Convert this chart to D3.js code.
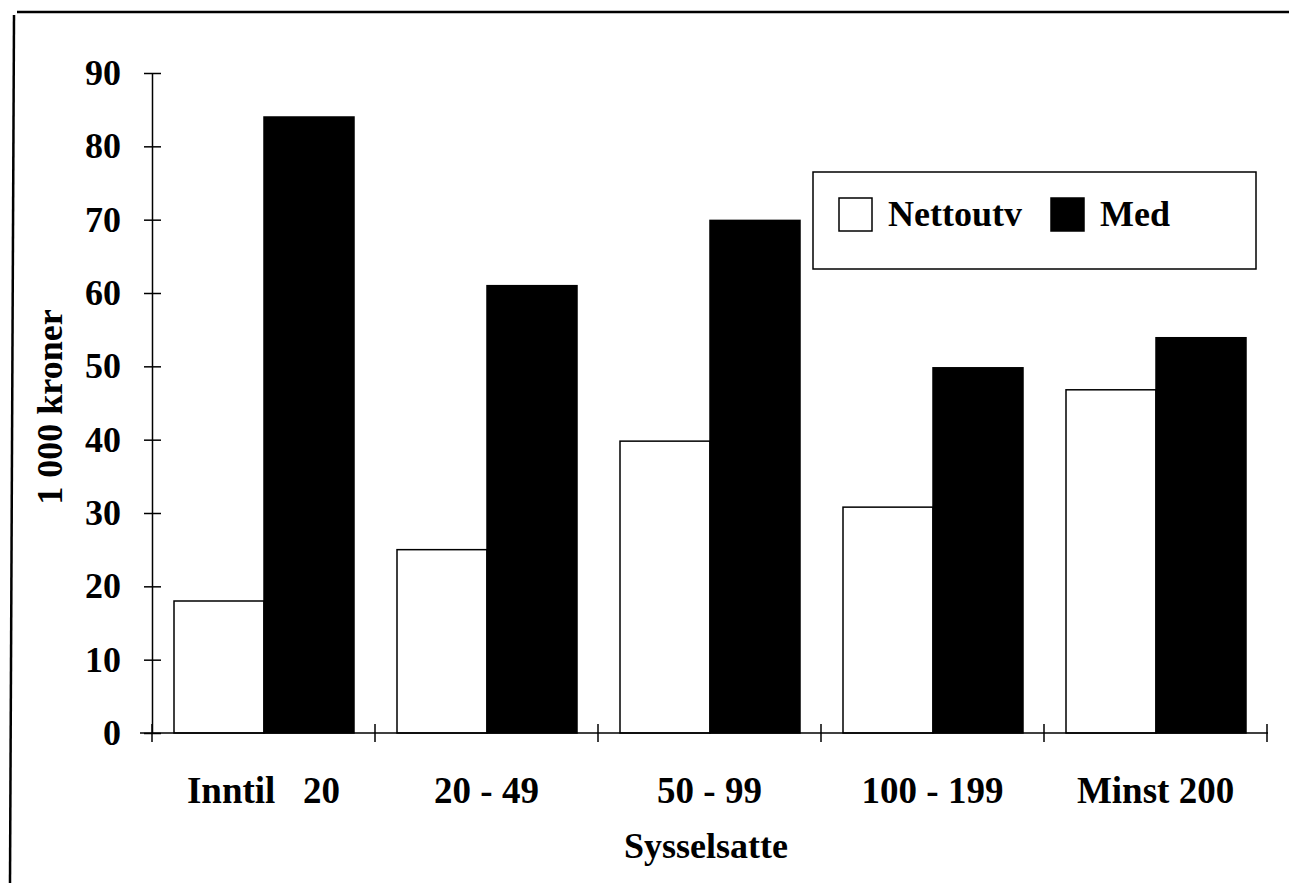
<!DOCTYPE html>
<html>
<head>
<meta charset="utf-8">
<script src="https://cdn.jsdelivr.net/npm/d3@7"></script>
<style>
  body { margin: 0; background: #fff; }
  svg text { font-family: "Liberation Serif", "Times New Roman", serif; font-weight: bold; fill: #000; }
</style>
</head>
<body>
<div id="chart"></div>
<script>
// data
const categories = ["Inntil   20", "20 - 49", "50 - 99", "100 - 199", "Minst 200"];
const seriesNames = ["Nettoutv", "Med"];
const nettoutv = [18, 25, 39.8, 30.8, 46.8];
const med = [84, 61, 69.9, 49.8, 53.9];
const yTicks = [0, 10, 20, 30, 40, 50, 60, 70, 80, 90];

const width = 1289, height = 883;
const fills = { Nettoutv: "#fff", Med: "#000" };

const svg = d3.select("#chart").append("svg")
  .attr("width", width)
  .attr("height", height);

// scanned frame: top and left edges only
svg.append("line")
  .attr("x1", 17).attr("y1", 12).attr("x2", width).attr("y2", 12)
  .attr("stroke", "#000").attr("stroke-width", 2.5);
svg.append("line")
  .attr("x1", 14).attr("y1", 15).attr("x2", 10).attr("y2", height)
  .attr("stroke", "#000").attr("stroke-width", 2.5);

const y = d3.scaleLinear().domain([0, 90]).range([733, 73]);

const x0 = d3.scaleBand()
  .domain(categories)
  .range([152, 1267])
  .padding(0);

const x1 = d3.scaleBand()
  .domain(seriesNames)
  .range([22, x0.bandwidth() - 21])
  .padding(0);

const rows = categories.map((c, i) => ({ cat: c, values: [
  { key: "Nettoutv", value: nettoutv[i] },
  { key: "Med", value: med[i] }
]}));

// bars
const groups = svg.append("g").selectAll("g")
  .data(rows)
  .join("g")
  .attr("transform", d => `translate(${x0(d.cat)},0)`);

groups.selectAll("rect")
  .data(d => d.values)
  .join("rect")
  .attr("x", d => x1(d.key))
  .attr("y", d => y(d.value))
  .attr("width", x1.bandwidth())
  .attr("height", d => y(0) - y(d.value))
  .attr("fill", d => fills[d.key])
  .attr("stroke", "#000")
  .attr("stroke-width", 1.5);

// y axis
const yAxis = svg.append("g")
  .attr("transform", `translate(${x0.range()[0]},0)`)
  .call(d3.axisLeft(y).tickValues(yTicks).tickSize(0).tickPadding(31));
yAxis.select(".domain").attr("stroke", "#000").attr("stroke-width", 1.5);
yAxis.selectAll(".tick line").attr("x1", -8).attr("x2", 9).attr("stroke", "#000").attr("stroke-width", 1.5);
yAxis.selectAll(".tick text").attr("font-size", 36).style("font-family", null);

// x axis: baseline and boundary ticks
const xRange = x0.range();
svg.append("line")
  .attr("x1", xRange[0] - 12).attr("x2", xRange[1] + 1)
  .attr("y1", y(0)).attr("y2", y(0))
  .attr("stroke", "#000").attr("stroke-width", 1.5);

const bounds = categories.map(c => x0(c)).concat([xRange[1]]);
svg.append("g").selectAll("line")
  .data(bounds)
  .join("line")
  .attr("x1", d => d).attr("x2", d => d)
  .attr("y1", y(0) - 9).attr("y2", y(0) + 9)
  .attr("stroke", "#000").attr("stroke-width", 1.5);

const xAxis = svg.append("g")
  .attr("transform", `translate(0,${y(0)})`)
  .call(d3.axisBottom(x0).tickSize(0));
xAxis.select(".domain").remove();
xAxis.selectAll(".tick text")
  .attr("y", 70).attr("dy", null)
  .attr("font-size", 37)
  .style("font-family", null)
  .style("white-space", "pre");

// axis titles
svg.append("text")
  .attr("transform", "rotate(-90)")
  .attr("x", -407).attr("y", 62)
  .attr("text-anchor", "middle")
  .attr("font-size", 36)
  .text("1 000 kroner");

svg.append("text")
  .attr("x", 706).attr("y", 858)
  .attr("text-anchor", "middle")
  .attr("font-size", 36)
  .text("Sysselsatte");

// legend
const legend = svg.append("g");
legend.append("rect")
  .attr("x", 813).attr("y", 172).attr("width", 443).attr("height", 97)
  .attr("fill", "#fff").attr("stroke", "#000").attr("stroke-width", 1.5);

const legendX = [839, 1051];
const items = legend.selectAll("g")
  .data(seriesNames)
  .join("g")
  .attr("transform", (d, i) => `translate(${legendX[i]},198)`);
items.append("rect")
  .attr("width", 33).attr("height", 33)
  .attr("fill", d => fills[d])
  .attr("stroke", "#000").attr("stroke-width", 1.5);
items.append("text")
  .attr("x", 49).attr("y", 28)
  .attr("font-size", 36)
  .text(d => d);
</script>
</body>
</html>
